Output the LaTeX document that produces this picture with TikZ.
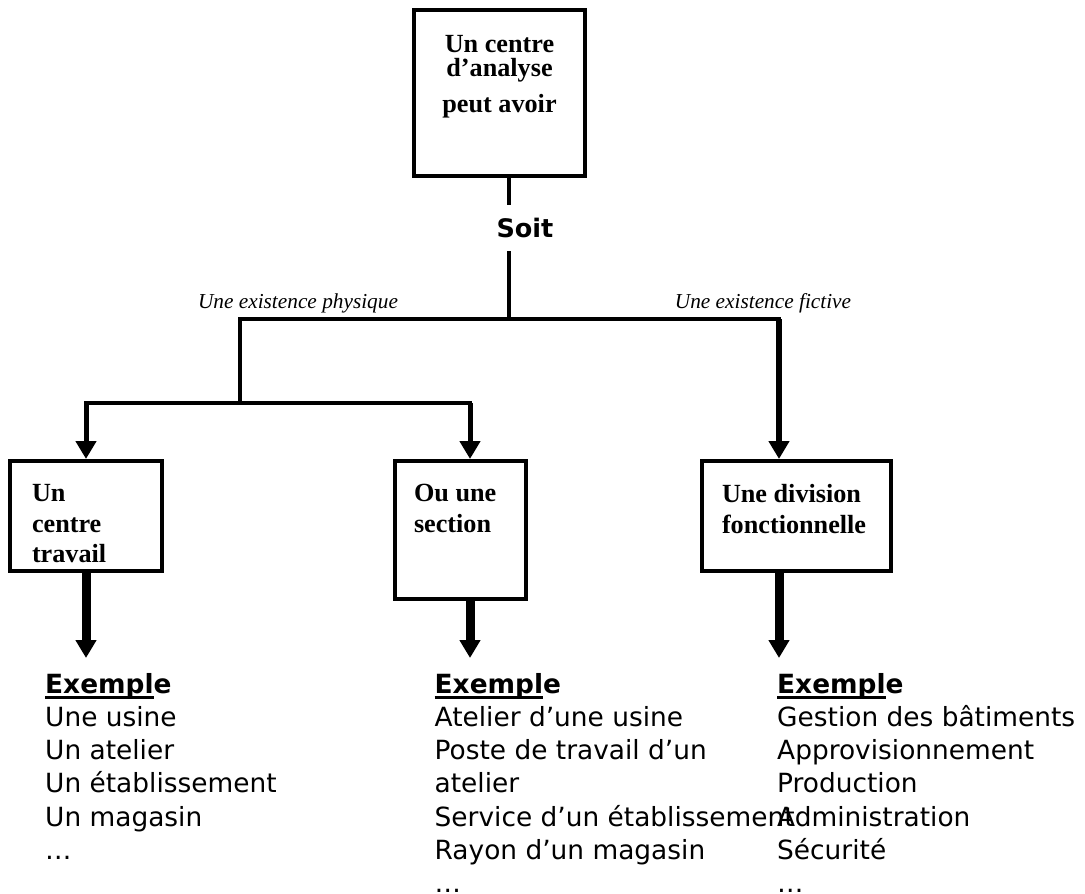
\documentclass[tikz,border=0pt]{standalone}
\usepackage{fontspec}
\setmainfont{Liberation Serif}
\newfontfamily\listfont{DejaVu Sans}
\usetikzlibrary{arrows.meta}

% text held at the top of a fixed box
\newcommand{\inbox}[3]{\parbox[c][#2][t]{#1}{#3}}
% thick underline under part of a word
\newcommand{\exul}[1]{\setbox0\hbox{#1}\rlap{\rule[-5.5pt]{\wd0}{3pt}}\box0}

\begin{document}
\begin{tikzpicture}[x=1pt, y=-1pt,
  box/.style={draw, line width=4pt, inner sep=0pt, font=\bfseries\fontsize{26.2}{30.5}\selectfont},
  link/.style={line width=3.5pt, line cap=rect},
  darrow/.style={-{Triangle[width=20pt,length=18pt]}},
  ex/.style={anchor=north west, inner sep=0pt, align=left, font=\listfont\fontsize{26.4}{33.2}\selectfont}]
\useasboundingbox (0,0) rectangle (1085,894);

% Top box
\node[box] (ctr) at (499.5,93) {\inbox{171pt}{166pt}{\centering\fontsize{26.2}{24}\selectfont
  \vspace*{25.5pt}Un centre\\d’analyse\\[12pt]peut avoir}};
\node[font=\listfont\bfseries\fontsize{25.5}{30}\selectfont, minimum height=50pt, inner sep=0pt] (soit) at (525,228) {Soit};

% Branch points
\coordinate (j0) at (509,319);
\coordinate (jl) at (240,319);
\coordinate (jr) at (779,319);
\coordinate (jd) at (240,403);
\coordinate (a1) at (86,403);
\coordinate (a2) at (470,403);

% Branch labels
\node[font=\itshape\fontsize{21.3}{25}\selectfont, anchor=base] (lphys) at (298,308) {Une existence physique};
\node[font=\itshape\fontsize{21.3}{25}\selectfont, anchor=base] (lfict) at (763,308) {Une existence fictive};

% Second row of boxes
\node[box] (ctw) at (86,516) {\inbox{152pt}{110pt}{\leftskip=22pt\vspace*{23.8pt}Un\\centre\\travail}};
\node[box] (sec) at (460.5,530) {\inbox{131pt}{138pt}{\leftskip=19pt\vspace*{23.3pt}Ou une\\section}};
\node[box] (div) at (796.5,516) {\inbox{189pt}{110pt}{\leftskip=20pt\vspace*{23.6pt}Une division\\fonctionnelle}};

% Tree lines
\draw[link] (ctr.south -| j0) -- (soit.north -| j0);
\draw[link] (soit.south -| j0) -- (j0);
\draw[link] (jl) -- (jr);
\draw[link] (jl) -- (jd);
\draw[link] (a1) -- (a2);
\draw[line width=5pt, darrow] (a1) -- (ctw.north);
\draw[line width=5pt, darrow] (a2) -- (a2 |- sec.north);
\draw[line width=6pt, darrow] (jr) -- (jr |- div.north);

% Arrows to the examples
\coordinate (t1) at (86,658);
\coordinate (t2) at (470,658);
\coordinate (t3) at (779,658);
\draw[line width=9pt, darrow] (ctw.south) -- (t1);
\draw[line width=9pt, darrow] (sec.south -| t2) -- (t2);
\draw[line width=9pt, darrow] (div.south -| t3) -- (t3);

% Examples
\node[ex] (ex1) at (45,673) {{\bfseries\exul{Exempl}e}\\Une usine\\Un atelier\\Un établissement\\Un magasin\\…};
\node[ex] (ex2) at (434.5,673) {{\bfseries\exul{Exempl}e}\\Atelier d’une usine\\Poste de travail d’un\\atelier\\Service d’un établissement\\Rayon d’un magasin\\…};
\node[ex] (ex3) at (777,673) {{\bfseries\exul{Exempl}e}\\Gestion des bâtiments\\Approvisionnement\\Production\\Administration\\Sécurité\\…};
\end{tikzpicture}
\end{document}
